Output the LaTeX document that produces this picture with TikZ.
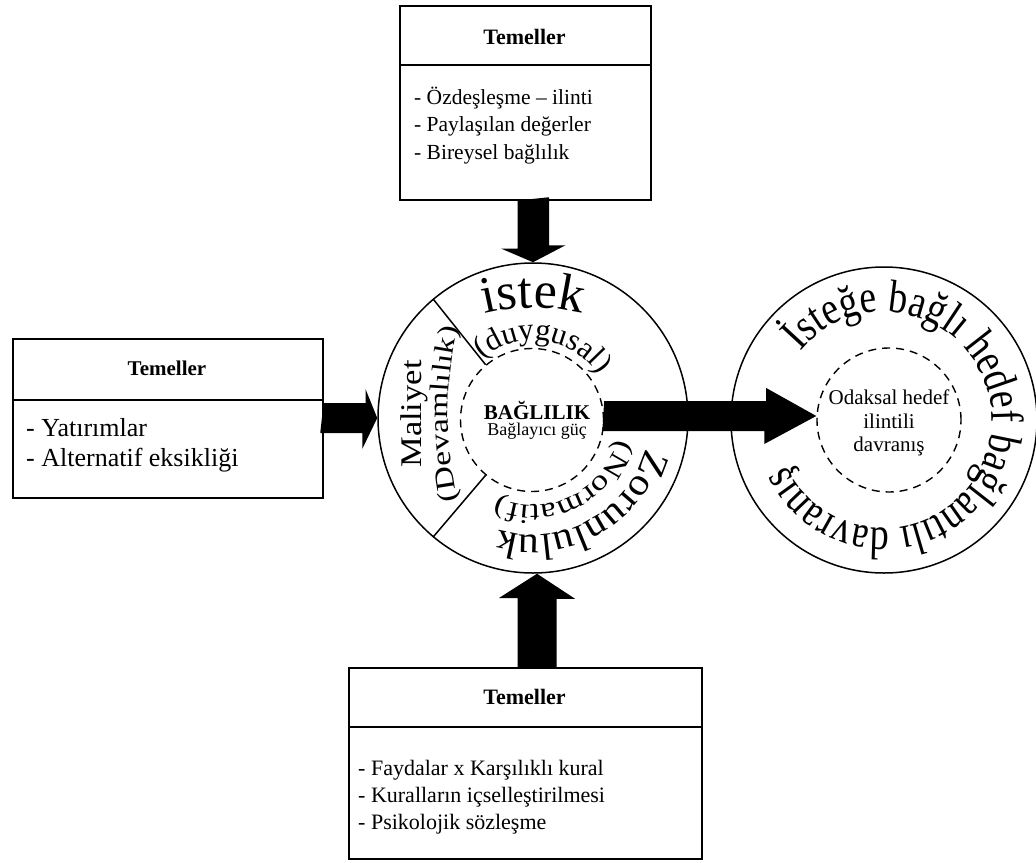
\documentclass[tikz,border=0pt]{standalone}
\usepackage{fontspec}
\setmainfont{Liberation Serif}
\newfontfamily\wsA[FakeStretch=1.1]{Liberation Serif}
\newfontfamily\wsB[FakeStretch=1.25]{Liberation Serif}
\newfontfamily\wsC[FakeStretch=1.15]{Liberation Serif}
\newfontfamily\wsD[FakeStretch=0.82]{Liberation Serif}
\usetikzlibrary{decorations.text,calc}
\begin{document}
\begin{tikzpicture}[x=1pt,y=1pt,
  boxst/.style={draw, line width=1.5pt, inner sep=0pt, anchor=north west},
  ttl/.style={font=\fontsize{22}{26}\selectfont\bfseries, inner sep=0pt},
  bodyst/.style={font=\fontsize{22}{26}\selectfont, anchor=base west, inner sep=0pt},
  topbody/.style={font=\fontsize{21.5}{26}\selectfont, anchor=base west, inner sep=0pt},
  bigbody/.style={font=\fontsize{26}{30}\selectfont, anchor=base west, inner sep=0pt},
  ring/.style={circle, draw, line width=1.5pt, inner sep=0pt},
  dring/.style={circle, draw, line width=1.4pt, inner sep=0pt, dash pattern=on 8pt off 6pt},
  sepline/.style={line width=1.5pt},
  blockarrow/.style={fill=black}
]
\useasboundingbox (0,0) rectangle (1036,-862);

% ---------- boxes ----------
\node[boxst, minimum width=251pt, minimum height=194pt] (topbox) at (399,-5) {};
\draw[sepline] ([yshift=-60pt]topbox.north west) -- ([yshift=-60pt]topbox.north east);
\node[ttl] (toptitle) at (524.5,-37) {Temeller};
\node[topbody] (tb1) at (414,-104) {- Özdeşleşme – ilinti};
\node[topbody] (tb2) at (414,-131) {- Paylaşılan değerler};
\node[topbody] (tb3) at (414,-159) {- Bireysel bağlılık};

\node[boxst, minimum width=310pt, minimum height=159pt] (leftbox) at (12,-338) {};
\draw[sepline] ([yshift=-62pt]leftbox.north west) -- ([yshift=-62pt]leftbox.north east);
\node[ttl, font=\fontsize{21}{25}\selectfont\bfseries] (lefttitle) at (167,-368) {Temeller};
\node[bigbody] (lb1) at (26,-436) {- Yatırımlar};
\node[bigbody] (lb2) at (26,-466) {- Alternatif eksikliği};

\node[boxst, minimum width=353pt, minimum height=191pt] (botbox) at (348,-667) {};
\draw[sepline] ([yshift=-60pt]botbox.north west) -- ([yshift=-60pt]botbox.north east);
\node[ttl] (bottitle) at (524.5,-697) {Temeller};
\node[bodyst] (bb1) at (358,-775) {- Faydalar x Karşılıklı kural};
\node[bodyst] (bb2) at (358,-802) {- Kuralların içselleştirilmesi};
\node[bodyst] (bb3) at (358,-829) {- Psikolojik sözleşme};

% ---------- main circle ----------
\node[ring, minimum size=310pt] (mc) at (533,-418) {};
\node[dring, minimum size=143pt] (ic) at (532,-420) {};
\draw[sepline] (ic.130) -- (mc.130);
\draw[sepline] (ic.230) -- (mc.230);
\node[font=\fontsize{21}{24}\selectfont\bfseries, inner sep=0pt] (bag) at (537,-410) {BAĞLILIK};
\node[font=\fontsize{18}{21}\selectfont, inner sep=0pt] (guc) at (537,-431) {Bağlayıcı güç};

% curved texts in main circle
\coordinate (ikc) at (533,-508);
\path[decorate, decoration={text along path, text align=center,
  text={|\fontsize{52}{52}\selectfont|istek}}]
  (ikc) ++(130:200) arc[start angle=130, end angle=50, radius=200];
\path[decorate, decoration={text along path, text align=center,
  text={|\fontsize{31}{31}\selectfont|(duygusal)}}]
  (mc.center) ++(172:78) arc[start angle=172, end angle=-8, radius=78];
\node[rotate=90, anchor=base, inner sep=0pt, font=\wsC\fontsize{30}{30}\selectfont] (mal) at (421,-414) {Maliyet};
\coordinate (dvc) at (848,-414);
\path[decorate, decoration={text along path, text align=center,
  text={|\wsB\fontsize{27}{27}\selectfont|(Devamlılık)}}]
  (dvc) ++(210:400) arc[start angle=210, end angle=150, radius=400];
\path[decorate, decoration={text along path, text align=center,
  text={|\wsA\fontsize{38}{38}\selectfont|Zorunluluk}}]
  (mc.center) ++(19:117) arc[start angle=19, end angle=-141, radius=117];
\path[decorate, decoration={text along path, text align=center,
  text={|\wsB\fontsize{28}{28}\selectfont|(Normatif)}}]
  (mc.center) ++(16:87) arc[start angle=16, end angle=-144, radius=87];

% ---------- right circle ----------
\node[ring, minimum size=306pt] (rc) at (884,-420) {};
\node[dring, minimum size=144pt] (ric) at (889,-420) {};
\node[align=center, inner sep=0pt, font=\fontsize{21}{23.5}\selectfont] (rtxt) at (889,-423) {Odaksal hedef\\ilintili\\davranış};
\path[decorate, decoration={text along path, text align=center,
  text={|\wsD\fontsize{46}{46}\selectfont|İsteğe bağlı hedef bağlantılı davranış}}]
  (rc.center) ++(165:108) arc[start angle=165, end angle=-179, radius=108];

% ---------- block arrows ----------
\fill[blockarrow] (topbox.south -| mc.north) ++(-15.5,0) -- ++(0,-48) -- ++(-16.5,0)
  -- (mc.north) -- ++(32.5,17) -- ++(-16.5,0) -- ++(0,48) -- cycle;
\coordinate (bt) at ([xshift=4pt]mc.south);
\fill[blockarrow] (botbox.north -| bt) ++(-19.5,0) -- ++(0,69) -- ++(-18.5,0)
  -- (bt) -- ++(38,-25) -- ++(-18.5,0) -- ++(0,-69) -- cycle;
\fill[blockarrow] (leftbox.east |- mc.west) ++(0,15) -- ++(42,0) -- ++(0,14)
  -- (mc.west) -- ++(-15,-31) -- ++(0,16) -- ++(-42,0) -- cycle;
\coordinate (ra) at ([yshift=4pt]ic.east);
\coordinate (rb) at ([yshift=4pt]ric.west);
\fill[blockarrow] (ra) ++(0,15) -- ++(162,0) -- ++(0,13) -- (rb) -- ++(-52,-28)
  -- ++(0,13) -- ++(-162,0) -- cycle;
\end{tikzpicture}
\end{document}
